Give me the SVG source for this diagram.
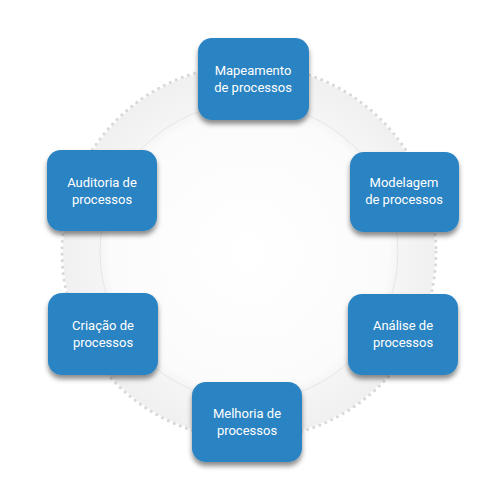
<svg xmlns="http://www.w3.org/2000/svg" width="500" height="500" viewBox="0 0 500 500">
<defs>
<radialGradient id="disk" cx="0.5" cy="0.5" r="0.5">
<stop offset="0" stop-color="#ffffff"/>
<stop offset="0.75" stop-color="#fbfbfb"/>
<stop offset="0.8" stop-color="#f5f5f5"/>
<stop offset="1" stop-color="#f0f0f0"/>
</radialGradient>
<filter id="sh" x="-20%" y="-20%" width="140%" height="150%">
<feDropShadow dx="0" dy="4" stdDeviation="2.5" flood-color="#000" flood-opacity="0.45"/>
</filter>
<style>
.box{fill:#2a83c2;filter:url(#sh)}
.t{font-family:Roboto,"Liberation Sans",sans-serif;font-size:13px;fill:#ffffff;text-anchor:middle}
</style>
</defs>
<rect width="500" height="500" fill="#ffffff"/>
<g id="ring">
<circle cx="249" cy="252" r="186" fill="url(#disk)"/>
<circle cx="249" cy="252" r="187" fill="none" stroke="#d9d9d9" stroke-width="3.2" stroke-linecap="round" stroke-dasharray="0 6.5"/>
<circle cx="249" cy="252" r="149" fill="none" stroke="#e6e6e6" stroke-width="1"/>
</g>
<g id="connectors"></g>
<g id="n1"><rect class="box" x="198" y="38" width="111" height="82" rx="14"/><text class="t" x="253" y="75">Mapeamento</text><text class="t" x="253" y="91.5">de processos</text></g>
<g id="n2"><rect class="box" x="350" y="152" width="109" height="80" rx="14"/><text class="t" x="404" y="187">Modelagem</text><text class="t" x="404" y="203.5">de processos</text></g>
<g id="n3"><rect class="box" x="348" y="294" width="110" height="81" rx="14"/><text class="t" x="403" y="330">Análise de</text><text class="t" x="403" y="346.5">processos</text></g>
<g id="n4"><rect class="box" x="192" y="382" width="110" height="80" rx="14"/><text class="t" x="247" y="418">Melhoria de</text><text class="t" x="247" y="434.5">processos</text></g>
<g id="n5"><rect class="box" x="48" y="293" width="110" height="82" rx="14"/><text class="t" x="103" y="330">Criação de</text><text class="t" x="103" y="346.5">processos</text></g>
<g id="n6"><rect class="box" x="47" y="150" width="110" height="81" rx="14"/><text class="t" x="102" y="187">Auditoria de</text><text class="t" x="102" y="203.5">processos</text></g>
</svg>
